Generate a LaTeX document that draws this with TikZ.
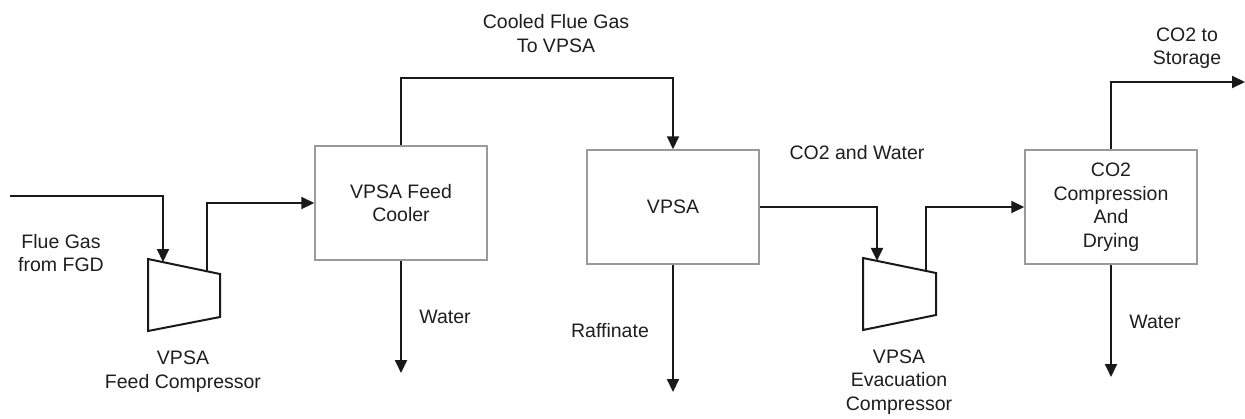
\documentclass[tikz,border=0pt]{standalone}
\usepackage{fontspec}
\setmainfont{Liberation Sans}
\usetikzlibrary{arrows.meta}
\definecolor{boxgray}{HTML}{9A9A9A}
\definecolor{txt}{HTML}{1E1E1E}
\tikzset{
  unit/.style={draw=boxgray, line width=1.5pt, minimum width=172pt, minimum height=114pt, inner sep=0pt, align=center, text=txt, font=\fontsize{19.5}{23.5}\selectfont},
  flow/.style={draw=black!90, line width=2pt, -{Triangle[length=13pt,width=12pt]}},
  pipe/.style={draw=black!90, line width=2pt},
  comp/.style={draw=black!90, line width=2pt, line join=miter},
  lbl/.style={inner sep=0pt, align=center, text=txt, font=\fontsize{19.5}{23.5}\selectfont}
}
\begin{document}
\begin{tikzpicture}[x=1pt,y=-1pt]
\useasboundingbox (0,0) rectangle (1245,418);
% units
\node[unit] (cooler) at (401,203) {VPSA Feed\\Cooler};
\node[unit] (vpsa) at (673,207) {VPSA};
\node[unit] (co2) at (1111,207) {CO2\\Compression\\And\\Drying};
% compressors
\coordinate (c1tl) at (148,259); \coordinate (c1tr) at (220,274);
\coordinate (c1br) at (220,317); \coordinate (c1bl) at (148,331);
\draw[comp] (c1tl) -- (c1tr) -- (c1br) -- (c1bl) -- cycle;
\coordinate (c1in) at (163,262); \coordinate (c1out) at (207,271.3);
\coordinate (c2tl) at (863,258); \coordinate (c2tr) at (936,273);
\coordinate (c2br) at (936,315); \coordinate (c2bl) at (863,330);
\draw[comp] (c2tl) -- (c2tr) -- (c2br) -- (c2bl) -- cycle;
\coordinate (c2in) at (877,260.9); \coordinate (c2out) at (926,271);
% free ends
\coordinate (fgin) at (10,196);
\coordinate (w1) at (401,373);
\coordinate (raf) at (673,392);
\coordinate (w2) at (1111,377);
\coordinate (stor) at (1245,82);
\coordinate (top1) at (401,78);
% connectors
\draw[flow] (fgin) -| (c1in);
\draw[flow] (c1out) |- (cooler.west);
\draw[flow] (cooler.north) -- (top1) -| (vpsa.north);
\draw[flow] (cooler.south) -- (w1);
\draw[flow] (vpsa.south) -- (raf);
\draw[flow] (vpsa.east) -| (c2in);
\draw[flow] (c2out) |- (co2.west);
\draw[flow] (co2.north) |- (stor);
\draw[flow] (co2.south) -- (w2);
% labels
\node[lbl] (lfg) at (61,253) {Flue Gas\\from FGD};
\node[lbl] (lc1) at (183,371.5) {VPSA\\Feed Compressor};
\node[lbl] (lcool) at (556,33.5) {Cooled Flue Gas\\To VPSA};
\node[lbl] (lw1) at (445,317) {Water};
\node[lbl] (lraf) at (610,331) {Raffinate};
\node[lbl] (lcw) at (857,153) {CO2 and Water};
\node[lbl] (lc2) at (899,382) {VPSA\\Evacuation\\Compressor};
\node[lbl] (lst) at (1187,48) {CO2 to\\Storage};
\node[lbl] (lw2) at (1155,322) {Water};
\end{tikzpicture}
\end{document}
